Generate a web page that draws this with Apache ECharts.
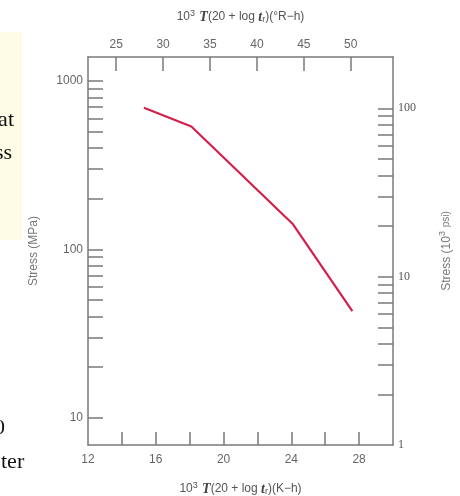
<!DOCTYPE html>
<html>
<head>
<meta charset="utf-8">
<script src="https://cdn.jsdelivr.net/npm/echarts@6/dist/echarts.min.js"></script>
<style>
  html, body { margin: 0; padding: 0; background: #fff; }
  #chart { width: 460px; height: 496px; }
</style>
</head>
<body>
<div id="chart"></div>
<script>
// Larson-Miller curve
const lmpKh = [15.3, 18.1, 24.1, 27.6];
const stressMPa = [695, 537, 141, 43];

const bottomTicks = [14, 16, 18, 20, 22, 24, 26, 28];
const bottomLabels = [12, 16, 20, 24, 28];
const topTicks = [25, 30, 35, 40, 45, 50];
const mpaTicks = [10, 20, 30, 40, 50, 60, 70, 80, 90, 100, 200, 300, 400, 500, 600, 700, 800, 900, 1000];
const mpaLabels = [10, 100, 1000];
const ksiTicks = [2, 3, 4, 5, 6, 7, 8, 9, 10, 20, 30, 40, 50, 60, 70, 80, 90, 100];
const ksiLabels = [1, 10, 100];

const MPA_PER_KSI = 6.895;
const mpaMax = 1390;

const axisGray = '#7a7a7a';
const line = { show: true, onZero: false, lineStyle: { color: axisGray, width: 1.5 } };
const tick = (vals, len) => ({
  show: true, inside: true, length: len, customValues: vals,
  lineStyle: { color: axisGray, width: 1.5 }
});
const sans = 'Liberation Sans, Arial, sans-serif';
const serif = 'Liberation Serif, Times New Roman, serif';

const nameRich = {
  n: { fontFamily: sans, fontSize: 12, color: '#555' },
  b: { fontFamily: serif, fontSize: 14, fontStyle: 'italic', fontWeight: 'bold', color: '#444' },
  sup: { fontFamily: sans, fontSize: 9, color: '#555', padding: [0, 1, 7, 0] },
  sub: { fontFamily: sans, fontSize: 9, color: '#555', padding: [6, 0, 0, 0] }
};

const chart = echarts.init(document.getElementById('chart'));
chart.setOption({
  animation: false,
  grid: { left: 88, right: 67, top: 57, bottom: 51, outerBoundsMode: 'none', containLabel: false },
  xAxis: [
    {
      type: 'value', position: 'bottom', min: 12, max: 30,
      axisLine: line,
      axisTick: tick(bottomTicks, 13),
      splitLine: { show: false },
      axisLabel: { customValues: bottomLabels, color: '#666', fontFamily: sans, fontSize: 12, margin: 9 },
      name: '{n|10}{sup|3} {b|T}{n|(20 + log }{b|t}{sub|r}{n|)(K−h)}',
      nameLocation: 'middle', nameGap: 36,
      nameTextStyle: { rich: nameRich }
    },
    {
      type: 'value', position: 'top', min: 22, max: 54.5,
      axisLine: line,
      axisTick: tick(topTicks, 14),
      splitLine: { show: false },
      axisLabel: { customValues: topTicks, color: '#666', fontFamily: sans, fontSize: 12, margin: 6 },
      name: '{n|10}{sup|3} {b|T}{n|(20 + log }{b|t}{sub|r}{n|)(°R−h)}',
      nameLocation: 'middle', nameGap: 32,
      nameTextStyle: { rich: nameRich }
    }
  ],
  yAxis: [
    {
      type: 'log', logBase: 10, position: 'left',
      min: MPA_PER_KSI, max: mpaMax,
      axisLine: line,
      axisTick: tick(mpaTicks, 15),
      splitLine: { show: false },
      minorTick: { show: false },
      axisLabel: {
        customValues: mpaLabels, color: '#666', fontFamily: sans, fontSize: 12, margin: 5,
        formatter: v => String(v)
      },
      name: 'Stress (MPa)', nameLocation: 'middle', nameRotate: 90, nameGap: 48,
      nameTextStyle: { fontFamily: sans, fontSize: 12, color: '#777' }
    },
    {
      type: 'log', logBase: 10, position: 'right',
      min: 1, max: mpaMax / MPA_PER_KSI,
      axisLine: line,
      axisTick: tick(ksiTicks, 15),
      splitLine: { show: false },
      minorTick: { show: false },
      axisLabel: {
        customValues: ksiLabels, color: '#555', fontFamily: serif, fontSize: 12, margin: 5,
        formatter: v => String(v)
      },
      name: '{n|Stress (10}{sup|3}{s| psi)}', nameLocation: 'middle', nameRotate: 90, nameGap: 45,
      nameTextStyle: {
        rich: {
          n: { fontFamily: sans, fontSize: 12, color: '#777' },
          sup: { fontFamily: sans, fontSize: 9, color: '#777', padding: [0, 1, 8, 0] },
          s: { fontFamily: sans, fontSize: 10, color: '#777' }
        }
      }
    }
  ],
  series: [
    {
      type: 'line',
      xAxisIndex: 0, yAxisIndex: 0,
      data: lmpKh.map((x, i) => [x, stressMPa[i]]),
      showSymbol: false, symbol: 'none',
      lineStyle: { color: '#d41f4c', width: 2.2 },
      silent: true
    }
  ],
  graphic: [
    { type: 'rect', shape: { x: 0, y: 32, width: 22, height: 208 }, style: { fill: '#fdfde7' }, z: -1 },
    { type: 'text', x: 14, y: 120, style: { text: 'at', fontFamily: serif, fontSize: 22, fill: '#111', align: 'right', verticalAlign: 'middle' } },
    { type: 'text', x: 12, y: 153, style: { text: 'ss', fontFamily: serif, fontSize: 22, fill: '#111', align: 'right', verticalAlign: 'middle' } },
    { type: 'text', x: 5, y: 428, style: { text: '0', fontFamily: serif, fontSize: 22, fill: '#111', align: 'right', verticalAlign: 'middle' } },
    { type: 'text', x: 1, y: 462, style: { text: 'ter', fontFamily: serif, fontSize: 22, fill: '#111', align: 'left', verticalAlign: 'middle' } }
  ]
});
</script>
</body>
</html>
